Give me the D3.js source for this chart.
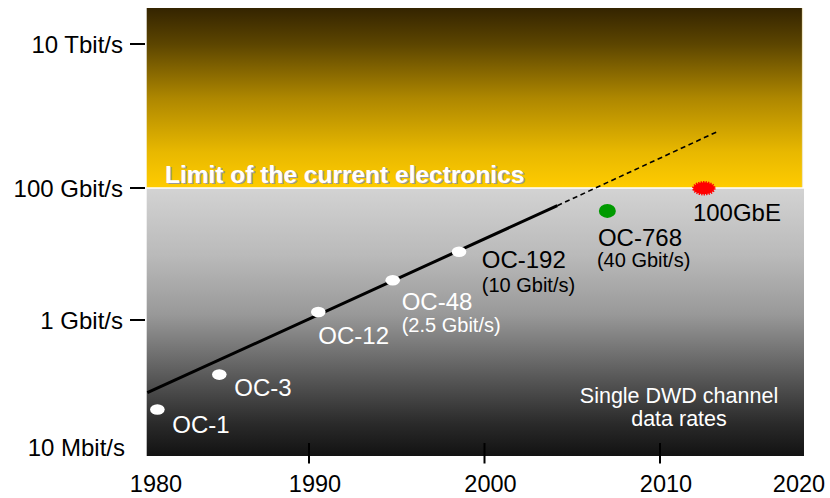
<!DOCTYPE html>
<html>
<head>
<meta charset="utf-8">
<script src="https://cdn.jsdelivr.net/npm/d3@7/dist/d3.min.js"></script>
<style>
  html, body { margin: 0; padding: 0; background: #ffffff; }
  svg { display: block; font-family: "Liberation Sans", Arial, sans-serif; }
</style>
</head>
<body>
<svg id="chart" width="830" height="498"></svg>
<script>
// ---- data ----
const channelNames = ["OC-1", "OC-3", "OC-12", "OC-48", "OC-192"];
const channelYears = [1981.36, 1984.89, 1990.53, 1994.77, 1998.55];
const channelRates = [3.9e7, 1.38e8, 1.32e9, 4.0e9, 1.08e10];
const channelNotes = ["", "", "", "(2.5 Gbit/s)", "(10 Gbit/s)"];

const futureNames = ["OC-768", "100GbE"];
const futureYears = [2007.0, 2012.5];
const futureRates = [4.5e10, 0.99e11];
const futureNotes = ["(40 Gbit/s)", ""];

const trendYears = [1980.79, 2004.15];
const trendRates = [7.16e7, 5.4e10];
const projYears = [2004.15, 2013.38];
const projRates = [5.4e10, 6.25e11];

const yTickValues = [1e7, 1e9, 1e11, 1e13];
const yTickLabels = ["10 Mbit/s", "1 Gbit/s", "100 Gbit/s", "10 Tbit/s"];
const xTickYears = [1990, 2000, 2010];
const xLabelYears = [1980, 1990, 2000, 2010, 2020];

const limitRate = 1e11;
const limitText = "Limit of the current electronics";
const noteLines = ["Single DWD channel", "data rates"];

// ---- layout ----
const plot = { left: 146.7, right: 804, top: 8, bottom: 456 };
const svg = d3.select("#chart");

const x = d3.scaleLinear().domain([1990, 2010]).range([309, 660]);
const y = d3.scaleLog().domain(yTickValues).range([447, 320, 188, 44]);

const defs = svg.append("defs");
const gY = defs.append("linearGradient").attr("id", "gYellow")
  .attr("x1", 0).attr("y1", 0).attr("x2", 0).attr("y2", 1);
[[0, "#342400"], [0.2, "#5c4500"], [0.5, "#ae8700"], [0.8, "#e8b800"], [1, "#ffcc00"]]
  .forEach(([o, c]) => gY.append("stop").attr("offset", o).attr("stop-color", c));
const gG = defs.append("linearGradient").attr("id", "gGray")
  .attr("x1", 0).attr("y1", 0).attr("x2", 0).attr("y2", 1);
[[0, "#d3d3d3"], [0.25, "#bababa"], [0.47, "#999999"], [0.7, "#5a5a5a"], [0.88, "#2a2a2a"], [1, "#121212"]]
  .forEach(([o, c]) => gG.append("stop").attr("offset", o).attr("stop-color", c));

// backgrounds
svg.append("rect")
  .attr("x", plot.left).attr("y", plot.top)
  .attr("width", 802 - plot.left).attr("height", y(limitRate) - plot.top)
  .attr("fill", "url(#gYellow)");
svg.append("rect")
  .attr("x", plot.left).attr("y", y(limitRate))
  .attr("width", plot.right - plot.left).attr("height", plot.bottom - y(limitRate))
  .attr("fill", "url(#gGray)");
svg.append("line")
  .attr("x1", 802.5).attr("x2", 802.5).attr("y1", plot.top).attr("y2", y(limitRate))
  .attr("stroke", "#efe6c6").attr("stroke-width", 1.2);
svg.append("line")
  .attr("x1", plot.left).attr("x2", plot.right)
  .attr("y1", y(limitRate)).attr("y2", y(limitRate))
  .attr("stroke", "#ffffff").attr("stroke-width", 1.6);

// limit text with shadow
[["#9a9a9a", 1.6], ["#ffffff", 0]].forEach(([c, o]) => {
  svg.append("text")
    .attr("x", 165 + o).attr("y", 182.5 + o)
    .attr("font-size", 24.5).attr("font-weight", "bold")
    .attr("fill", c).text(limitText);
});

// y axis
const yAxis = svg.append("g");
yTickValues.forEach((v, i) => {
  if (i > 0) {
    yAxis.append("line")
      .attr("x1", 130).attr("x2", 145).attr("y1", y(v)).attr("y2", y(v))
      .attr("stroke", "#000").attr("stroke-width", 2);
  }
  yAxis.append("text")
    .attr("x", i === 0 ? 125 : 123).attr("y", y(v))
    .attr("dy", "0.36em").attr("text-anchor", "end")
    .attr("font-size", 24).attr("fill", "#000")
    .text(yTickLabels[i]);
});

// x axis
const xAxis = svg.append("g");
xTickYears.forEach(yr => {
  xAxis.append("line")
    .attr("x1", x(yr)).attr("x2", x(yr)).attr("y1", 443).attr("y2", 463.5)
    .attr("stroke", "#000").attr("stroke-width", 2);
});
xLabelYears.forEach(yr => {
  const px = Math.max(156, Math.min(799, x(yr) + 6));
  xAxis.append("text")
    .attr("x", px).attr("y", 492)
    .attr("text-anchor", "middle")
    .attr("font-size", 23.5).attr("fill", "#000")
    .text(yr);
});

// trend lines
const line = d3.line().x(d => x(d[0])).y(d => y(d[1]));
svg.append("path")
  .attr("d", line(d3.zip(trendYears, trendRates)))
  .attr("stroke", "#000").attr("stroke-width", 3).attr("fill", "none");
svg.append("path")
  .attr("d", line(d3.zip(projYears, projRates)))
  .attr("stroke", "#000").attr("stroke-width", 1.6)
  .attr("stroke-dasharray", "5,3.5").attr("fill", "none");

// channel points
const chLabelOff = [[15, 23.4], [15, 21], [0, 32], [9, 30], [22.7, 16.3]];
const chNoteOff = [null, null, null, [9, 51.5], [22.7, 40.5]];
const chColor = ["#fff", "#fff", "#fff", "#fff", "#000"];
channelNames.forEach((n, i) => {
  const cx = x(channelYears[i]), cy = y(channelRates[i]);
  svg.append("ellipse").attr("cx", cx).attr("cy", cy)
    .attr("rx", 7.3).attr("ry", 5.3).attr("fill", "#fff");
  svg.append("text")
    .attr("x", cx + chLabelOff[i][0]).attr("y", cy + chLabelOff[i][1])
    .attr("font-size", 24).attr("fill", chColor[i]).text(n);
  if (channelNotes[i]) {
    svg.append("text")
      .attr("x", cx + chNoteOff[i][0]).attr("y", cy + chNoteOff[i][1])
      .attr("font-size", 20).attr("fill", chColor[i]).text(channelNotes[i]);
  }
});

// future points
const fuFill = ["#009a00", "#ff0000"];
const fuRx = [8.5, 10.5], fuRy = [7, 6];
const fuLabelOff = [[-9.4, 35], [-11, 32.5]];
const fuNoteOff = [[-10.4, 55.7], null];
futureNames.forEach((n, i) => {
  const cx = x(futureYears[i]), cy = y(futureRates[i]);
  const e = svg.append("ellipse").attr("cx", cx).attr("cy", cy)
    .attr("rx", fuRx[i]).attr("ry", fuRy[i]).attr("fill", fuFill[i]);
  if (i === 1) {
    e.attr("stroke", fuFill[i]).attr("stroke-width", 2.4).attr("stroke-dasharray", "1.3,1.1");
  }
  svg.append("text")
    .attr("x", cx + fuLabelOff[i][0]).attr("y", cy + fuLabelOff[i][1])
    .attr("font-size", 24).attr("fill", "#000").text(n);
  if (futureNotes[i]) {
    svg.append("text")
      .attr("x", cx + fuNoteOff[i][0]).attr("y", cy + fuNoteOff[i][1])
      .attr("font-size", 20).attr("fill", "#000").text(futureNotes[i]);
  }
});

// note
noteLines.forEach((t, i) => {
  svg.append("text")
    .attr("x", 679).attr("y", 403 + i * 22.5)
    .attr("text-anchor", "middle")
    .attr("font-size", 21.5).attr("fill", "#fff").text(t);
});
</script>
</body>
</html>
